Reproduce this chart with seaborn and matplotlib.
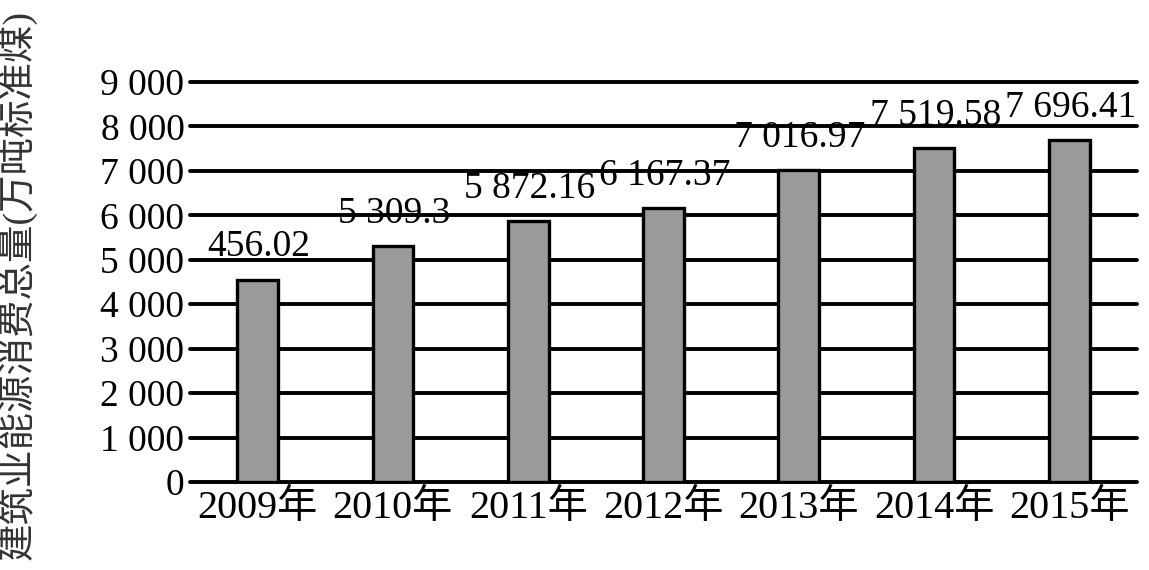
import matplotlib
matplotlib.use("Agg")
import matplotlib.pyplot as plt
import seaborn as sns
import pandas as pd

years = ["2009年", "2010年", "2011年", "2012年", "2013年", "2014年", "2015年"]
values = [4556.02, 5309.3, 5872.16, 6167.37, 7016.97, 7519.58, 7696.41]
bar_labels = ["456.02", "5 309.3", "5 872.16", "6 167.37", "7 016.97", "7 519.58", "7 696.41"]
yticks = [0, 1000, 2000, 3000, 4000, 5000, 6000, 7000, 8000, 9000]
ytick_labels = ["0", "1 000", "2 000", "3 000", "4 000", "5 000", "6 000", "7 000", "8 000", "9 000"]
ylabel = "建筑业能源消费总量(万吨标准煤)"

sns.set_theme(style="white")
plt.rcParams["font.family"] = ["Liberation Serif", "Noto Sans CJK SC", "DejaVu Sans"]

fig = plt.figure(figsize=(11.49, 5.70), dpi=100)
ax = fig.add_axes([190 / 1149, 1 - 482 / 570, (1137 - 190) / 1149, 400 / 570])

df = pd.DataFrame({"year": years, "value": values})
sns.barplot(data=df, x="year", y="value", color="#9a9a9a", saturation=1,
            edgecolor="black", linewidth=2.4, width=0.3, ax=ax, zorder=3)

ax.set_ylim(0, 9000)
ax.set_xlim(-0.5, len(years) - 0.5)
ax.set_yticks(yticks)
ax.set_yticklabels(ytick_labels)
ax.yaxis.grid(True, color="black", linewidth=2.8)
for gl in ax.get_ygridlines():
    gl.set_clip_on(False)
ax.set_axisbelow(True)
for s in ax.spines.values():
    s.set_visible(False)
ax.tick_params(axis="y", length=0, pad=4, labelsize=27, colors="black")
ax.tick_params(axis="x", length=0, pad=6, labelsize=29, colors="black")
ax.set_xlabel("")
ax.set_ylabel("")

for i, (v, lab) in enumerate(zip(values, bar_labels)):
    ax.annotate(lab, xy=(i, v), xytext=(1, 11),
                textcoords="offset points", ha="center", va="bottom",
                fontsize=27, color="black", annotation_clip=False)

fig.text(18 / 1149, 0.5, ylabel, rotation=90, ha="center", va="center",
         fontsize=27, color="#333333")

fig.savefig("out.png", dpi=100)
